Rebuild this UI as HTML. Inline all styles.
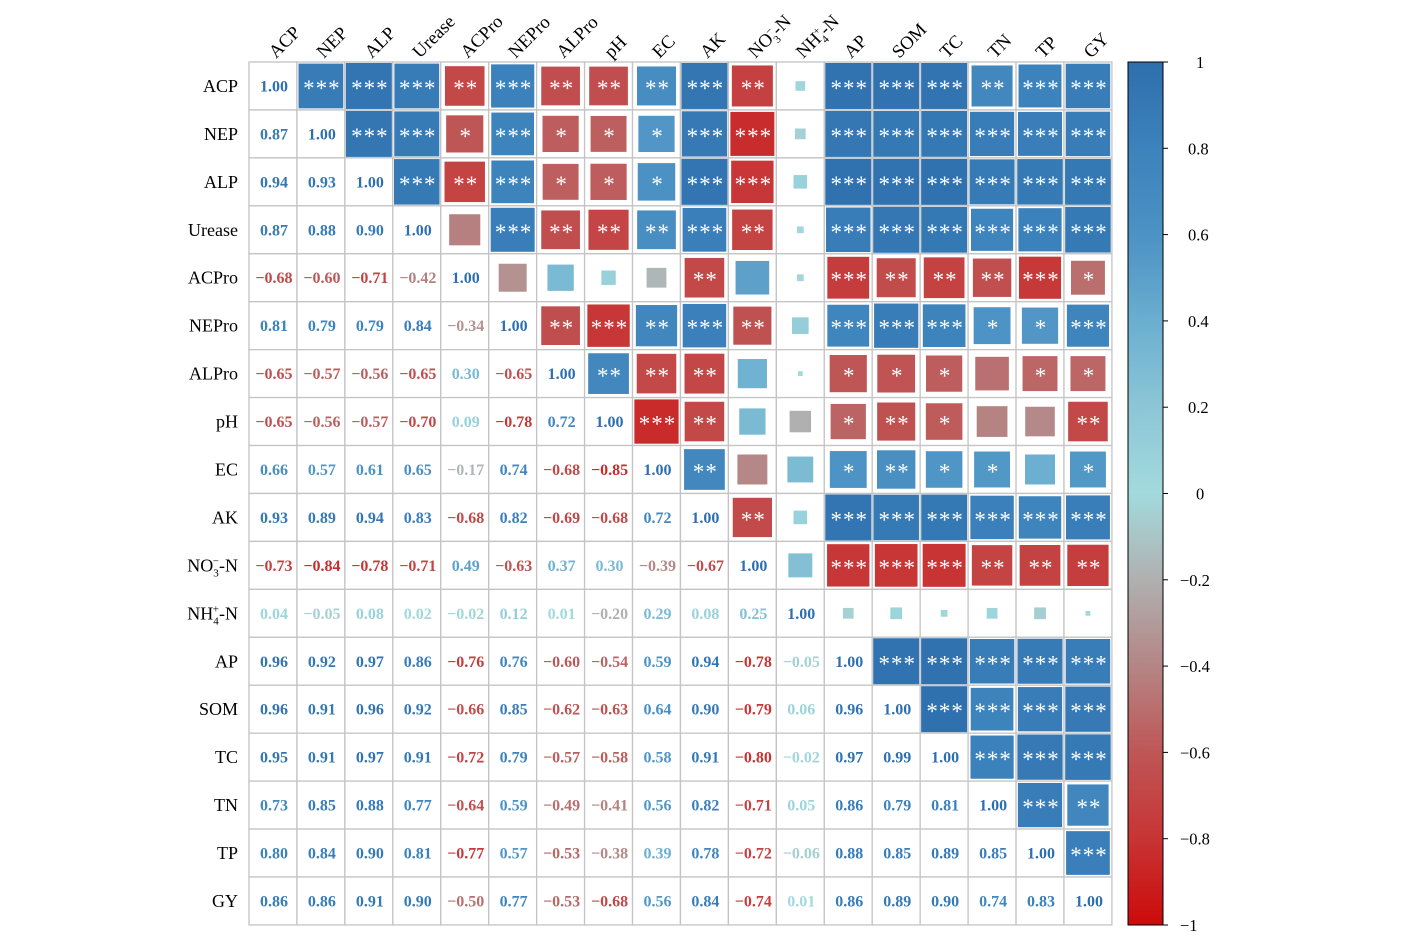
<!DOCTYPE html>
<html><head><meta charset="utf-8"><style>
html,body{margin:0;padding:0;background:#fff;}
svg{display:block;}
</style></head><body>
<svg id="s" width="1412" height="941" xmlns="http://www.w3.org/2000/svg" font-family="Liberation Serif, serif"></svg>
<script>
const names=["ACP","NEP","ALP","Urease","ACPro","NEPro","ALPro","pH","EC","AK","NO3","NH4","AP","SOM","TC","TN","TP","GY"];
const L=[[],[.87],[.94,.93],[.87,.88,.90],[-.68,-.60,-.71,-.42],[.81,.79,.79,.84,-.34],
[-.65,-.57,-.56,-.65,.30,-.65],[-.65,-.56,-.57,-.70,.09,-.78,.72],[.66,.57,.61,.65,-.17,.74,-.68,-.85],
[.93,.89,.94,.83,-.68,.82,-.69,-.68,.72],[-.73,-.84,-.78,-.71,.49,-.63,.37,.30,-.39,-.67],
[.04,-.05,.08,.02,-.02,.12,.01,-.20,.29,.08,.25],[.96,.92,.97,.86,-.76,.76,-.60,-.54,.59,.94,-.78,-.05],
[.96,.91,.96,.92,-.66,.85,-.62,-.63,.64,.90,-.79,.06,.96],[.95,.91,.97,.91,-.72,.79,-.57,-.58,.58,.91,-.80,-.02,.97,.99],
[.73,.85,.88,.77,-.64,.59,-.49,-.41,.56,.82,-.71,.05,.86,.79,.81],[.80,.84,.90,.81,-.77,.57,-.53,-.38,.39,.78,-.72,-.06,.88,.85,.89,.85],
[.86,.86,.91,.90,-.50,.77,-.53,-.68,.56,.84,-.74,.01,.86,.89,.90,.74,.83]];
const S=[
"3 3 3 2 3 2 2 2 3 2 0 3 3 3 2 3 3",
"3 3 1 3 1 1 1 3 3 0 3 3 3 3 3 3",
"3 2 3 1 1 1 3 3 0 3 3 3 3 3 3",
"0 3 2 2 2 3 2 0 3 3 3 3 3 3",
"0 0 0 0 2 0 0 3 2 2 2 3 1",
"2 3 2 3 2 0 3 3 3 1 1 3",
"2 2 2 0 0 1 1 1 0 1 1",
"3 2 0 0 1 2 1 0 0 2",
"2 0 0 1 2 1 1 0 1",
"2 0 3 3 3 3 3 3",
"0 3 3 3 2 2 2",
"0 0 0 0 0 0",
"3 3 3 3 3","3 3 3 3","3 3 3","3 2","3",""];
const stops=[[1,[46,111,173]],[.8,[60,130,188]],[.6,[76,146,196]],[.4,[106,174,208]],[.2,[140,198,214]],[0,[162,218,221]],[-.2,[176,176,176]],[-.4,[181,133,133]],[-.6,[191,86,86]],[-.8,[200,52,52]],[-1,[204,10,10]]];
function col(v){for(let i=0;i<stops.length-1;i++){const a=stops[i],b=stops[i+1];if(v<=a[0]&&v>=b[0]){const t=(a[0]-v)/(a[0]-b[0]);const c=a[1].map((x,k)=>Math.round(x+(b[1][k]-x)*t));return`rgb(${c})`;}}return"rgb(204,10,10)";}
const x0=249,y0=62,c=47.94,N=18;
let h="";
for(let i=0;i<N;i++)for(let j=0;j<N;j++){
 const x=x0+j*c,y=y0+i*c;
 h+=`<rect x="${x}" y="${y}" width="${c}" height="${c}" fill="#fff" stroke="#c4c4c4" stroke-width="1.3"/>`;
}
for(let i=0;i<N;i++)for(let j=0;j<N;j++){
 const cx=x0+(j+.5)*c,cy=y0+(i+.5)*c;
 if(j<=i){
  const v=i==j?1:L[i][j];
  const t=(i==j?"1.00":(v<0?"\u2212":"")+Math.abs(v).toFixed(2));
  h+=`<text x="${cx+1}" y="${cy+5.5}" text-anchor="middle" font-size="16" font-weight="bold" fill="${col(v)}">${t}</text>`;
 } else {
  const v=L[j][i];const st=+S[i].split(" ")[j-i-1];
  const sd=Math.min(46,48*Math.sqrt(Math.abs(v)));
  h+=`<rect x="${cx-sd/2}" y="${cy-sd/2}" width="${sd}" height="${sd}" fill="${col(v)}"/>`;
  if(st)h+=`<text x="${cx+1}" y="${cy+10}" text-anchor="middle" font-size="23" fill="#fff" letter-spacing="1">${"*".repeat(st)}</text>`;
 }
}
function lab(n){if(n=="NO3")return`NO<tspan font-size="11" dy="5">3</tspan><tspan font-size="11" dy="-12" dx="-6">\u2212</tspan><tspan dy="7">-N</tspan>`;
 if(n=="NH4")return`NH<tspan font-size="11" dy="5">4</tspan><tspan font-size="11" dy="-12" dx="-6">+</tspan><tspan dy="7">-N</tspan>`;return n;}
for(let i=0;i<N;i++){
 const cy=y0+(i+.5)*c;
 h+=`<text x="238" y="${cy+6}" text-anchor="end" font-size="18">${lab(names[i])}</text>`;
 const cx=x0+(i+.5)*c;
 h+=`<text transform="translate(${cx+3},${59}) rotate(-45)" font-size="18.5">${lab(names[i])}</text>`;
}
let g='<linearGradient id="g" x1="0" y1="0" x2="0" y2="1">';
stops.forEach(s=>{g+=`<stop offset="${(1-s[0])/2}" stop-color="${col(s[0])}"/>`});g+='</linearGradient>';
h='<defs>'+g+'</defs>'+h;
h+=`<rect x="1128" y="62" width="35" height="863" fill="url(#g)" stroke="#000" stroke-width="1"/>`;
[1,.8,.6,.4,.2,0,-.2,-.4,-.6,-.8,-1].forEach(v=>{const y=62+(1-v)/2*863;
 h+=`<line x1="1163" y1="${y}" x2="1168" y2="${y}" stroke="#000"/>`;
 const t=v==1?"1":v==-1?"\u22121":v==0?"0":(v<0?"\u2212":"")+Math.abs(v).toFixed(1);
 h+=`<text x="${v<0?1180:(v==1||v==0)?1196:1188}" y="${y+6}" font-size="16.5">${t}</text>`;});
document.getElementById("s").innerHTML=h;
</script>
</body></html>
